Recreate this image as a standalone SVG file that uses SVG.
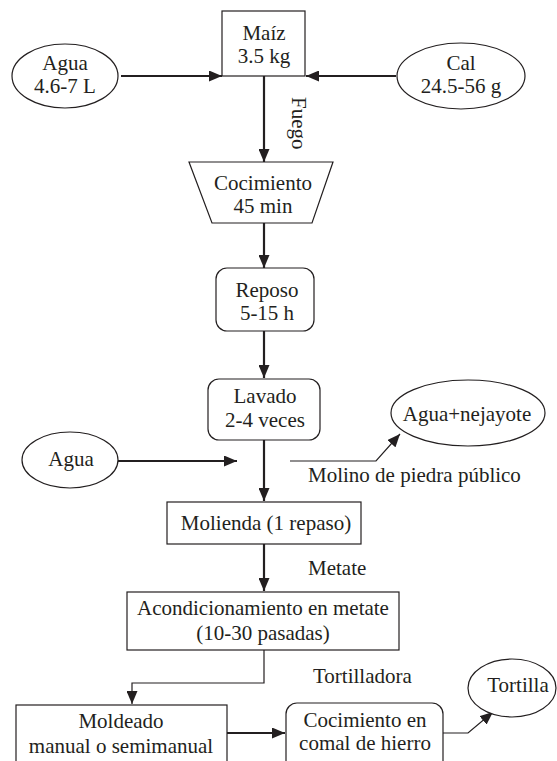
<svg xmlns="http://www.w3.org/2000/svg" width="557" height="761" viewBox="0 0 557 761">
<style>
.shape{fill:#fff;stroke:#231f20;stroke-width:1.2}
.t{font-family:"Liberation Serif","Times New Roman",serif;font-size:21px;fill:#231f20;text-anchor:middle}
.l{text-anchor:start}
.thick{fill:none;stroke:#231f20;stroke-width:2.2}
.thin{fill:none;stroke:#231f20;stroke-width:1.2}
</style>
<defs>
<marker id="ah" markerUnits="userSpaceOnUse" markerWidth="13" markerHeight="11" refX="13" refY="5.5" orient="auto">
<path d="M0,0 L13,5.5 L0,11 z" fill="#231f20"/>
</marker>
</defs>
<rect width="557" height="761" fill="#fff"/>
<g id="connectors">
<path class="thick" d="M121,76 H222" marker-end="url(#ah)"/>
<path class="thick" d="M396,76 H306" marker-end="url(#ah)"/>
<path class="thick" d="M264,76 V162" marker-end="url(#ah)"/>
<path class="thick" d="M264,223 V268" marker-end="url(#ah)"/>
<path class="thick" d="M264,331 V378" marker-end="url(#ah)"/>
<path class="thick" d="M264,440 V501" marker-end="url(#ah)"/>
<path class="thick" d="M118,461 H237" marker-end="url(#ah)"/>
<path class="thin" d="M290,461 H376 L400,434" marker-end="url(#ah)"/>
<path class="thick" d="M264,544 V591" marker-end="url(#ah)"/>
<path class="thin" d="M264,650 V683 H132 V704" marker-end="url(#ah)"/>
<path class="thick" d="M227,733 H285" marker-end="url(#ah)"/>
<path class="thin" d="M443,733 H468 L493,712" marker-end="url(#ah)"/>
<text class="t" transform="translate(292,97) rotate(90)" style="text-anchor:start">Fuego</text>
<text class="t l" x="308" y="482">Molino de piedra público</text>
<text class="t l" x="308" y="575">Metate</text>
<text class="t l" x="313" y="683">Tortilladora</text>
</g>
<g id="agua1">
<ellipse class="shape" cx="65" cy="76" rx="53" ry="32"/>
<text class="t" x="65" y="70">Agua</text>
<text class="t" x="65" y="93">4.6-7 L</text>
</g>
<g id="maiz">
<rect class="shape" x="222" y="11" width="83" height="65"/>
<text class="t" x="264" y="40">Maíz</text>
<text class="t" x="264" y="63">3.5 kg</text>
</g>
<g id="cal">
<ellipse class="shape" cx="461" cy="76" rx="64" ry="33"/>
<text class="t" x="461" y="70">Cal</text>
<text class="t" x="461" y="93">24.5-56 g</text>
</g>
<g id="cocimiento">
<path class="shape" d="M189,162 H333 L312,223 H212 Z"/>
<text class="t" x="263" y="190">Cocimiento</text>
<text class="t" x="263" y="213">45 min</text>
</g>
<g id="reposo">
<rect class="shape" x="216" y="268" width="98" height="63" rx="11"/>
<text class="t" x="267" y="297">Reposo</text>
<text class="t" x="267" y="320">5-15 h</text>
</g>
<g id="lavado">
<rect class="shape" x="208" y="379" width="112" height="61" rx="11"/>
<text class="t" x="265" y="403">Lavado</text>
<text class="t" x="265" y="427">2-4 veces</text>
</g>
<g id="agua2">
<ellipse class="shape" cx="70" cy="460" rx="48" ry="28"/>
<text class="t" x="71" y="466">Agua</text>
</g>
<g id="nejayote">
<ellipse class="shape" cx="468" cy="413" rx="77" ry="33"/>
<text class="t" x="467" y="421">Agua+nejayote</text>
</g>
<g id="molienda">
<rect class="shape" x="167" y="502" width="194" height="42"/>
<text class="t" x="266" y="530">Molienda (1 repaso)</text>
</g>
<g id="acondicionamiento">
<rect class="shape" x="127" y="592" width="272" height="58"/>
<text class="t" x="263" y="615">Acondicionamiento en metate</text>
<text class="t" x="263" y="640">(10-30 pasadas)</text>
</g>
<g id="moldeado">
<rect class="shape" x="16" y="705" width="211" height="70"/>
<text class="t" x="121" y="728">Moldeado</text>
<text class="t" x="121" y="753">manual o semimanual</text>
</g>
<g id="comal">
<rect class="shape" x="286" y="703" width="157" height="72" rx="11"/>
<text class="t" x="365" y="727">Cocimiento en</text>
<text class="t" x="365" y="750">comal de hierro</text>
</g>
<g id="tortilla">
<ellipse class="shape" cx="512" cy="688" rx="44" ry="29"/>
<text class="t" x="518" y="692">Tortilla</text>
</g>
</svg>
